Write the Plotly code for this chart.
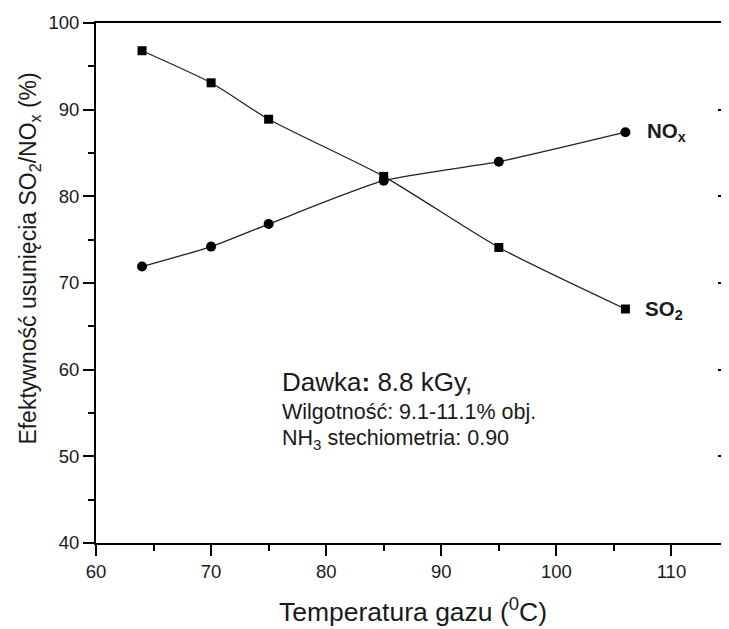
import plotly.graph_objects as go

temps = [64, 70, 75, 85, 95, 106]
so2 = [96.8, 93.1, 88.9, 82.3, 74.1, 67.0]
nox = [71.9, 74.2, 76.8, 81.8, 84.0, 87.4]

x_ticks = [60, 70, 80, 90, 100, 110]
y_ticks = [40, 50, 60, 70, 80, 90, 100]

FONT = "Liberation Sans, Arial, sans-serif"
TXT = "#1a1a1a"

fig = go.Figure()
fig.add_trace(go.Scatter(x=temps, y=so2, mode="lines+markers",
                         line=dict(color="#222", width=1.3, shape="spline", smoothing=0.6),
                         marker=dict(symbol="square", size=9, color="black"),
                         showlegend=False))
fig.add_trace(go.Scatter(x=temps, y=nox, mode="lines+markers",
                         line=dict(color="#222", width=1.3, shape="spline", smoothing=0.6),
                         marker=dict(symbol="circle", size=10, color="black"),
                         showlegend=False))
fig.add_trace(go.Scatter(x=[None], y=[None], yaxis="y2", showlegend=False))

axis_common = dict(showgrid=False, zeroline=False, linecolor="black", linewidth=2,
                   tickcolor="black", tickwidth=2, ticklen=11, automargin=False,
                   tickfont=dict(family=FONT, size=18.5, color=TXT))

# page body has an 8px margin, so the figure is 8px smaller than the window
fig.update_layout(
    width=721, height=621,
    margin=dict(l=88, r=0, t=15, b=86),
    paper_bgcolor="white", plot_bgcolor="white",
    xaxis=dict(range=[60, 115], tickvals=x_ticks, ticks="outside", mirror=True,
               showline=True,
               minor=dict(dtick=5, ticks="outside", ticklen=6, tickwidth=2, tickcolor="black"),
               **axis_common),
    yaxis=dict(range=[40, 100], tickvals=y_ticks, ticks="outside", showline=True,
               minor=dict(dtick=5, ticks="outside", ticklen=6, tickwidth=2, tickcolor="black"),
               **axis_common),
    yaxis2=dict(range=[40, 100], overlaying="y", side="right", tickvals=y_ticks, ticks="inside",
                showticklabels=False, showline=True,
                minor=dict(dtick=5, ticks="inside", ticklen=6, tickwidth=2, tickcolor="black"),
                **axis_common),
)

# axis titles
fig.add_annotation(xref="paper", yref="paper", x=0.5, y=-0.129, yanchor="middle",
                   text="Temperatura gazu (<sup>0</sup>C)", showarrow=False,
                   font=dict(family=FONT, size=26.5, color=TXT))
fig.add_annotation(xref="paper", yref="paper", x=-0.105, y=0.546, xanchor="center", yanchor="middle",
                   textangle=-90, text="Efektywność usunięcia SO<sub>2</sub>/NO<sub>x</sub> (%)",
                   showarrow=False, font=dict(family=FONT, size=23, color=TXT))

annos = [
    dict(x=107.7, y=87.4, text="<b>NO<sub>x</sub></b>", font=dict(size=20.5)),
    dict(x=107.5, y=66.9, text="<b>SO<sub>2</sub></b>", font=dict(size=20.5)),
    dict(x=76.0, y=58.6, text="Dawka<b>:</b> 8.8 kGy,", font=dict(size=26)),
    dict(x=76.0, y=55.1, text="Wilgotność: 9.1-11.1% obj.", font=dict(size=21.5)),
    dict(x=76.0, y=51.9, text="NH<sub>3</sub> stechiometria: 0.90", font=dict(size=21.5)),
]
for a in annos:
    a["font"].update(family=FONT, color=TXT)
    fig.add_annotation(xref="x", yref="y", showarrow=False, xanchor="left", yanchor="middle", **a)

fig.write_html("out.html")
